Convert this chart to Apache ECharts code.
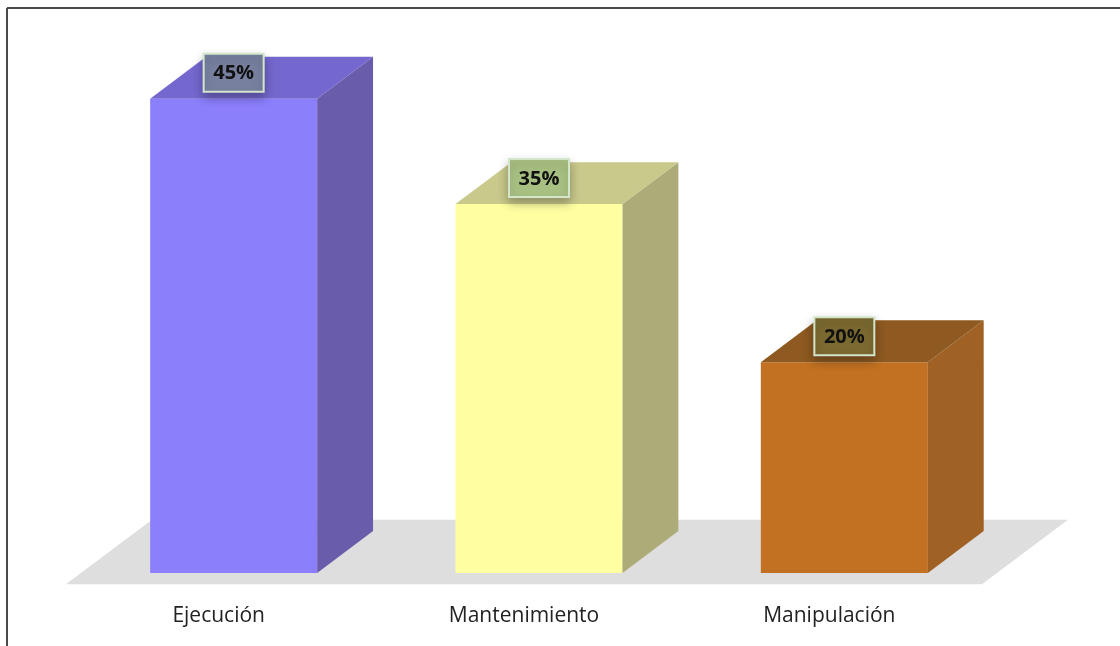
<!DOCTYPE html>
<html>
<head>
<meta charset="utf-8">
<script src="https://cdn.jsdelivr.net/npm/echarts@6/dist/echarts.min.js"></script>
<style>
html,body{margin:0;padding:0;background:#fff;}
#chart{width:1120px;height:646px;}
</style>
</head>
<body>
<div id="chart"></div>
<script>
// ---- data ----
const categories = ['Ejecución', 'Mantenimiento', 'Manipulación'];
const values = [45, 35, 20];

// ---- styles ----
const frontColors = ['#8c7ffc', '#ffffa2', '#c27122'];
const sideColors  = ['#695caa', '#adac79', '#9f6124'];
const topColors   = ['#7468cf', '#c9c98b', '#8e5a21'];
const labelFills  = ['#77809f', '#a9c083', '#7b6a30'];

const chart = echarts.init(document.getElementById('chart'), null, {renderer: 'canvas'});

function depth(api) {
  const bw = api.size([1, 0])[0];
  const dx = bw * 0.183;
  return {bw: bw, dx: dx, dy: -dx * 0.75};
}

function renderFloor(params, api) {
  const cs = params.coordSys;
  const d = depth(api);
  const y0 = api.coord([0, 0])[1];
  const xl = cs.x, xr = cs.x + cs.width;
  const f = -0.27, k = 1.27;
  return {
    type: 'polygon',
    shape: {points: [
      [xl + f * d.dx, y0 + f * d.dy],
      [xr + f * d.dx, y0 + f * d.dy],
      [xr + k * d.dx, y0 + k * d.dy],
      [xl + k * d.dx, y0 + k * d.dy]
    ]},
    style: {fill: '#dfdedf'},
    silent: true
  };
}

function renderBar(params, api) {
  const i = params.dataIndex;
  const v = api.value(1);
  const c = api.coord([api.value(0), v]);
  const b = api.coord([api.value(0), 0]);
  const d = depth(api);
  const w = d.bw * 0.547;
  const x0 = c[0] - w / 2, x1 = c[0] + w / 2;
  const top = c[1], bot = b[1];
  const dx = d.dx, dy = d.dy;
  const bx = 60, bh = 38;
  const cy = top - 26;
  return {
    type: 'group',
    children: [
      {type: 'rect', shape: {x: x0, y: top, width: w, height: bot - top}, style: {fill: frontColors[i]}},
      {type: 'polygon', shape: {points: [[x1, bot], [x1, top], [x1 + dx, top + dy], [x1 + dx, bot + dy]]}, style: {fill: sideColors[i]}},
      {type: 'polygon', shape: {points: [[x0, top], [x1, top], [x1 + dx, top + dy], [x0 + dx, top + dy]]}, style: {fill: topColors[i]}},
      {type: 'rect', shape: {x: c[0] - bx / 2, y: cy - bh / 2, width: bx, height: bh},
        style: {fill: labelFills[i], stroke: '#d3e6cc', lineWidth: 2,
          shadowBlur: 10, shadowColor: 'rgba(0,0,0,0.28)', shadowOffsetY: 5}},
      {type: 'text', style: {text: v + '%', x: c[0], y: cy + 1, align: 'center', verticalAlign: 'middle',
        fill: '#111', font: 'bold 20px "Open Sans", "Noto Sans", sans-serif'}}
    ]
  };
}

const option = {
  animation: false,
  backgroundColor: '#ffffff',
  grid: {left: 81, right: 123, top: 46, bottom: 73},
  xAxis: {
    type: 'category',
    data: categories,
    axisLine: {show: false},
    axisTick: {show: false},
    splitLine: {show: false},
    axisLabel: {margin: 33, fontSize: 21, fontFamily: '"Open Sans", "Noto Sans", sans-serif', color: '#222', padding: [0, 30, 0, 0]}
  },
  yAxis: {type: 'value', min: 0, max: 50, show: false},
  series: [
    {type: 'custom', z: 1, silent: true, data: [[0, 0]], renderItem: renderFloor},
    {type: 'custom', z: 2, data: values.map(function (v, i) { return [i, v]; }), renderItem: renderBar}
  ],
  graphic: [
    {type: 'line', shape: {x1: 7, y1: 8, x2: 1120, y2: 8}, style: {stroke: '#4a4a4a', lineWidth: 2}},
    {type: 'line', shape: {x1: 7, y1: 8, x2: 7, y2: 646}, style: {stroke: '#4a4a4a', lineWidth: 2}}
  ]
};
chart.setOption(option);
</script>
</body>
</html>
